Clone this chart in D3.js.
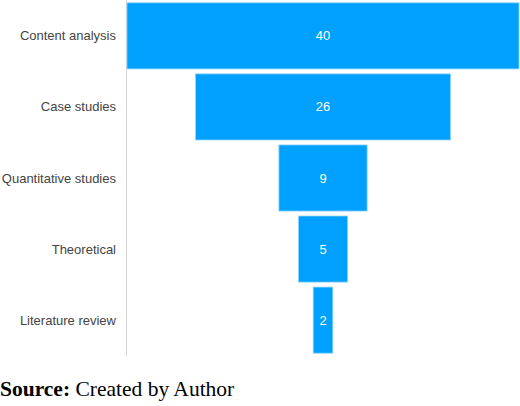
<!DOCTYPE html>
<html>
<head>
<meta charset="utf-8">
<script src="https://cdn.jsdelivr.net/npm/d3@7"></script>
<style>
  body { margin: 0; background: #fff; }
  svg { display: block; }
</style>
</head>
<body>
<div id="chart"></div>
<script>
// funnel data
var categories = ['Content analysis', 'Case studies', 'Quantitative studies', 'Theoretical', 'Literature review'];
var counts = [40, 26, 9, 5, 2];

var width = 520;
var height = 406;
var axisX = 126;
var centerX = 323;

var svg = d3.select('#chart')
    .append('svg')
    .attr('width', width)
    .attr('height', height);

var data = categories.map(function (c, i) {
    return { name: c, value: counts[i] };
});

var yscale = d3.scaleBand()
    .domain(categories)
    .range([0, 356])
    .paddingInner(0.07)
    .paddingOuter(0.04);

// half-width from the centre line
var wscale = d3.scaleLinear()
    .domain([0, d3.max(counts)])
    .range([0, 196]);

svg.append('line')
    .attr('x1', axisX + 0.5)
    .attr('x2', axisX + 0.5)
    .attr('y1', 0)
    .attr('y2', 356)
    .attr('stroke', '#d6d6d6')
    .attr('stroke-width', 1);

svg.selectAll('rect')
    .data(data)
    .enter()
    .append('rect')
    .attr('x', d => centerX - wscale(d.value))
    .attr('y', d => yscale(d.name))
    .attr('width', d => wscale(d.value) * 2)
    .attr('height', yscale.bandwidth())
    .attr('fill', '#00a0fe')
    .attr('stroke', '#8dd3ff')
    .attr('stroke-width', 0.8);

svg.selectAll('.val')
    .data(data)
    .enter()
    .append('text')
    .attr('class', 'val')
    .attr('x', centerX)
    .attr('y', d => yscale(d.name) + yscale.bandwidth() / 2)
    .attr('dy', '0.35em')
    .attr('text-anchor', 'middle')
    .attr('fill', '#fff')
    .style('font-family', 'Liberation Sans, Arial, sans-serif')
    .style('font-size', '13px')
    .text(d => d.value);

svg.selectAll('.lbl')
    .data(data)
    .enter()
    .append('text')
    .attr('class', 'lbl')
    .attr('x', 116)
    .attr('y', d => yscale(d.name) + yscale.bandwidth() / 2)
    .attr('dy', '0.35em')
    .attr('text-anchor', 'end')
    .attr('fill', '#444')
    .style('font-family', 'Liberation Sans, Arial, sans-serif')
    .style('font-size', '13px')
    .text(d => d.name);

var src = svg.append('text')
    .attr('x', 0)
    .attr('y', 396)
    .attr('fill', '#000')
    .style('font-family', 'Liberation Serif, Times New Roman, serif')
    .style('font-size', '21.5px');
src.append('tspan').style('font-weight', 'bold').text('Source:');
src.append('tspan').text(' Created by Author');
</script>
</body>
</html>
